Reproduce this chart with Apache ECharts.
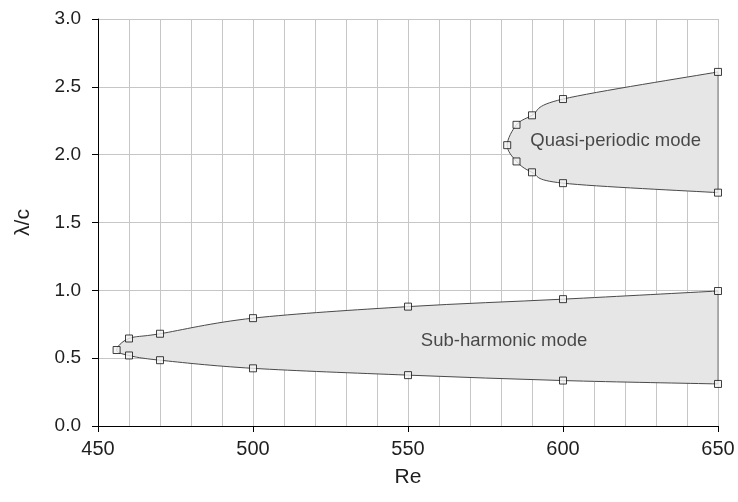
<!DOCTYPE html>
<html>
<head>
<meta charset="utf-8">
<script src="https://cdn.jsdelivr.net/npm/echarts@6/dist/echarts.min.js"></script>
<style>
  html, body { margin: 0; padding: 0; background: #fff; }
  #chart { width: 738px; height: 502px; }
</style>
</head>
<body>
<div id="chart"></div>
<script>
// Sub-harmonic boundary: upper branch from Re = 650 round the nose, then lower branch back to 650
const subRe  = [650, 600, 550, 500, 470, 460, 456, 460, 470, 500, 550, 600, 650];
const subLam = [0.995, 0.935, 0.88, 0.795, 0.68, 0.645, 0.56, 0.52, 0.485, 0.425, 0.375, 0.335, 0.31];

// Quasi-periodic boundary, same ordering
const quasiRe  = [650, 600, 590, 585, 582, 585, 590, 600, 650];
const quasiLam = [2.61, 2.41, 2.29, 2.22, 2.07, 1.95, 1.87, 1.79, 1.72];

// Region names and where they sit (Re, λ/c)
const regionNames = ['Sub-harmonic mode', 'Quasi-periodic mode'];
const regionNameRe  = [581, 617];
const regionNameLam = [0.63, 2.10];

// Axis ticks
const xTicks = [450, 500, 550, 600, 650];
const yTickLabels = ['0.0', '0.5', '1.0', '1.5', '2.0', '2.5', '3.0'];

const regions = [
  { re: subRe, lam: subLam },
  { re: quasiRe, lam: quasiLam }
];

const FONT = '"Liberation Sans", Arial, Helvetica, sans-serif';
const TEXT = '#1e1e1e';
const GRID = '#c6c6c6';

// Catmull-Rom curve through pixel points, written as cubic Bézier path data
function splinePath(p) {
  let d = 'M' + p[0][0] + ',' + p[0][1];
  for (let i = 0; i < p.length - 1; i++) {
    const p0 = p[i - 1] || p[i];
    const p1 = p[i];
    const p2 = p[i + 1];
    const p3 = p[i + 2] || p[i + 1];
    const c1x = p1[0] + (p2[0] - p0[0]) / 6, c1y = p1[1] + (p2[1] - p0[1]) / 6;
    const c2x = p2[0] - (p3[0] - p1[0]) / 6, c2y = p2[1] - (p3[1] - p1[1]) / 6;
    d += ' C' + c1x + ',' + c1y + ' ' + c2x + ',' + c2y + ' ' + p2[0] + ',' + p2[1];
  }
  return d;
}

function renderRegion(params, api) {
  const r = regions[params.dataIndex];
  const pts = r.re.map((x, i) => api.coord([x, r.lam[i]]));
  const curve = splinePath(pts);
  const first = pts[0], last = pts[pts.length - 1];
  return {
    type: 'group',
    children: [
      { type: 'path', shape: { pathData: curve + ' Z' },
        style: { fill: '#e6e6e6', stroke: null } },
      { type: 'line', shape: { x1: last[0], y1: last[1], x2: first[0], y2: first[1] },
        style: { stroke: '#9a9a9a', lineWidth: 1.5 } },
      { type: 'path', shape: { pathData: curve },
        style: { fill: null, stroke: '#4a4a4a', lineWidth: 1 } }
    ]
  };
}

const markerData = regions.map(r => r.re.map((x, i) => [x, r.lam[i]]));

const chart = echarts.init(document.getElementById('chart'), null, { renderer: 'canvas' });

chart.setOption({
  animation: false,
  backgroundColor: '#fff',
  textStyle: { fontFamily: FONT },
  grid: { left: 98, right: 20, top: 19, bottom: 76, containLabel: false },
  xAxis: {
    type: 'value',
    min: xTicks[0],
    max: xTicks[xTicks.length - 1],
    interval: xTicks[1] - xTicks[0],
    name: 'Re',
    nameLocation: 'middle',
    nameGap: 41,
    nameTextStyle: { fontSize: 21, color: TEXT, fontFamily: FONT },
    axisLine: { show: true, onZero: false, lineStyle: { color: '#000', width: 1 } },
    axisTick: { show: true, inside: false, length: 6, lineStyle: { color: '#000', width: 1 } },
    axisLabel: { fontSize: 20, color: TEXT, margin: 13, fontFamily: FONT },
    splitLine: { show: true, lineStyle: { color: GRID, width: 1 } },
    minorTick: { show: false, splitNumber: 5 },
    minorSplitLine: { show: true, lineStyle: { color: GRID, width: 1 } }
  },
  yAxis: {
    type: 'value',
    min: 0,
    max: 3,
    interval: 0.5,
    name: 'λ/c',
    nameLocation: 'middle',
    nameGap: 64,
    nameRotate: 90,
    nameTextStyle: { fontSize: 21, color: TEXT, fontFamily: FONT },
    axisLine: { show: true, onZero: false, lineStyle: { color: '#000', width: 1 } },
    axisTick: { show: true, inside: false, length: 6, lineStyle: { color: '#000', width: 1 } },
    axisLabel: {
      fontSize: 19, color: TEXT, margin: 17, fontFamily: FONT,
      formatter: v => yTickLabels[Math.round(v / 0.5)]
    },
    splitLine: { show: true, lineStyle: { color: GRID, width: 1 } }
  },
  series: [
    {
      type: 'custom',
      renderItem: renderRegion,
      data: regions.map(r => [r.re[0], r.lam[0]]),
      z: 2,
      silent: true
    },
    {
      type: 'scatter',
      data: markerData[0].concat(markerData[1]),
      symbol: 'rect',
      symbolSize: 7,
      itemStyle: { color: '#f2f2f2', borderColor: '#111', borderWidth: 1 },
      z: 3,
      silent: true
    },
    {
      type: 'scatter',
      data: regionNameRe.map((x, i) => [x, regionNameLam[i]]),
      symbolSize: 0,
      label: {
        show: true,
        position: 'inside',
        formatter: p => regionNames[p.dataIndex],
        fontSize: 18.5,
        color: TEXT,
        fontFamily: FONT
      },
      z: 4,
      silent: true
    }
  ]
});
</script>
</body>
</html>
